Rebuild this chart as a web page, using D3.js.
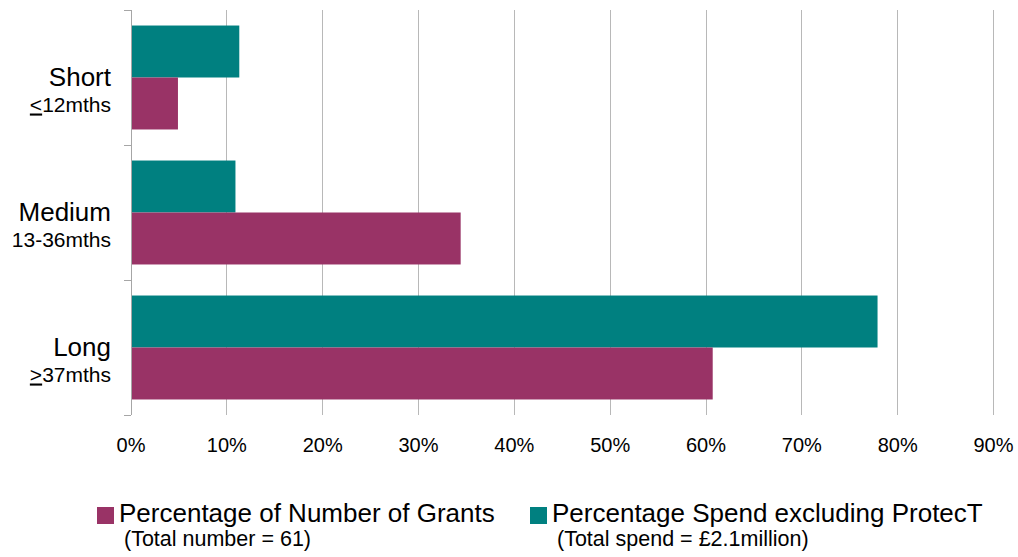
<!DOCTYPE html>
<html>
<head>
<meta charset="utf-8">
<script src="https://cdn.jsdelivr.net/npm/d3@7"></script>
<style>
  body { margin: 0; background: #fff; }
  svg { display: block; font-family: "Liberation Sans", Arial, sans-serif; }
</style>
</head>
<body>
<svg id="chart" width="1018" height="557"></svg>
<script>
const categories = ["Short", "Medium", "Long"];
const subLabels = [["<", "12mths"], ["", "13-36mths"], [">", "37mths"]];
const seriesNames = ["Percentage Spend excluding ProtecT", "Percentage of Number of Grants"];
const spendValues = [11.3, 10.9, 77.9];
const grantValues = [4.9, 34.4, 60.7];
const xTicks = [0, 10, 20, 30, 40, 50, 60, 70, 80, 90];
const legendNames = ["Percentage of Number of Grants", "Percentage Spend excluding ProtecT"];
const legendSubs = ["(Total number = 61)", "(Total spend = £2.1million)"];
const colors = { spend: "#008080", grants: "#993366" };

(function () {
const svg = d3.select("#chart");
const mLeft = 131, mRight = 993.5, mTop = 10, mBottom = 415;

const x = d3.scaleLinear().domain([0, 90]).range([mLeft, mRight]);
const y = d3.scaleBand().domain(categories).range([mTop, mBottom]).paddingInner(0.23).paddingOuter(0.115);
const ySub = d3.scaleBand().domain(["spend", "grants"]).range([0, y.bandwidth()]);

// gridlines
svg.append("g").selectAll("line").data(xTicks.filter(d => d > 0)).join("line")
  .attr("x1", d => x(d)).attr("x2", d => x(d))
  .attr("y1", mTop).attr("y2", mBottom)
  .attr("stroke", "#b8b8b8").attr("stroke-width", 1).attr("shape-rendering", "crispEdges");

// bars
const rows = categories.map((c, i) => ({ cat: c, spend: spendValues[i], grants: grantValues[i] }));
const g = svg.append("g");
rows.forEach(r => {
  ["spend", "grants"].forEach(k => {
    g.append("rect")
      .attr("x", x(0))
      .attr("y", y(r.cat) + ySub(k))
      .attr("width", x(r[k]) - x(0))
      .attr("height", ySub.bandwidth())
      .attr("fill", colors[k]);
  });
});

// left axis
const boundaries = [mTop, ...categories.slice(1).map(c => y(c) - y.step() * y.paddingInner() / 2), mBottom];
const ax = svg.append("g").attr("stroke", "#a6a6a6").attr("shape-rendering", "crispEdges");
ax.append("line").attr("x1", mLeft).attr("x2", mLeft).attr("y1", mTop).attr("y2", mBottom);
ax.selectAll("line.t").data(boundaries).join("line").attr("class", "t")
  .attr("x1", mLeft - 7).attr("x2", mLeft).attr("y1", d => d).attr("y2", d => d);

// x tick labels
svg.append("g").selectAll("text").data(xTicks).join("text")
  .attr("x", d => x(d)).attr("y", 452)
  .attr("text-anchor", "middle").attr("font-size", 20).attr("fill", "#000")
  .text(d => d + "%");

// category labels
const labX = 111;
categories.forEach((c, i) => {
  const cy = y(c) + y.bandwidth() / 2;
  svg.append("text").attr("x", labX).attr("y", cy + 8)
    .attr("text-anchor", "end").attr("font-size", 26).text(c);
  const t = svg.append("text").attr("x", labX).attr("y", cy + 34)
    .attr("text-anchor", "end").attr("font-size", 21);
  if (subLabels[i][0]) t.append("tspan").attr("text-decoration", "underline").text(subLabels[i][0]);
  t.append("tspan").text(subLabels[i][1]);
});

// legend
const legendItems = [
  { name: legendNames[0], sub: legendSubs[0], color: colors.grants, x: 97 },
  { name: legendNames[1], sub: legendSubs[1], color: colors.spend, x: 530 }
];
legendItems.forEach(it => {
  svg.append("rect").attr("x", it.x).attr("y", 507).attr("width", 17).attr("height", 17).attr("fill", it.color);
  svg.append("text").attr("x", it.x + 22).attr("y", 522).attr("font-size", 26).text(it.name);
  svg.append("text").attr("x", it.x + 27).attr("y", 546).attr("font-size", 21.5).text(it.sub);
});
})();
</script>
</body>
</html>
